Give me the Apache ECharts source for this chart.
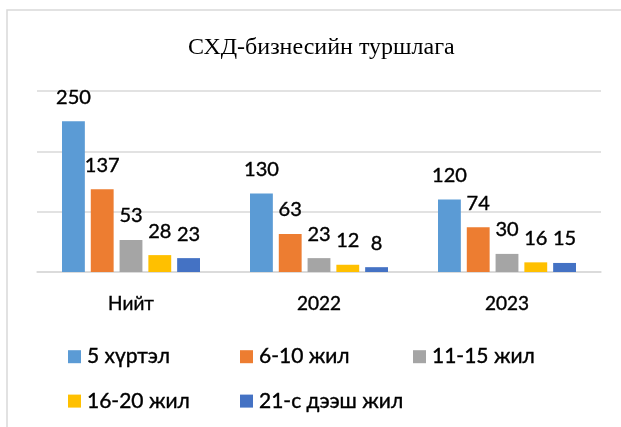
<!DOCTYPE html>
<html>
<head>
<meta charset="utf-8">
<script src="https://cdn.jsdelivr.net/npm/echarts@6/dist/echarts.min.js"></script>
<style>
  html, body { margin: 0; padding: 0; background: #fff; }
  #chart { width: 621px; height: 427px; }
</style>
</head>
<body>
<div id="chart"></div>
<script>
// Experience groups of SMEs, by period
const categories = ['Нийт', '2022', '2023'];
const seriesNames = ['5 хүртэл', '6-10 жил', '11-15 жил', '16-20 жил', '21-с дээш жил'];
const upTo5 = [250, 130, 120];
const y6to10 = [137, 63, 74];
const y11to15 = [53, 23, 30];
const y16to20 = [28, 12, 16];
const over21 = [23, 8, 15];
const colors = ['#5B9BD5', '#ED7D31', '#A5A5A5', '#FFC000', '#4472C4'];
const valueTicks = { min: 0, max: 300, interval: 100 };

const seriesData = [upTo5, y6to10, y11to15, y16to20, over21];
const sansFont = 'Lato, "Noto Sans", sans-serif';
// a hairline outline gives the sans text a slightly heavier stroke
const heavy = { textBorderColor: '#000', textBorderWidth: 0.4 };

const chart = echarts.init(document.getElementById('chart'), null, { renderer: 'canvas' });

// legend laid out as aligned columns
const legendBase = {
  orient: 'vertical',
  top: 346,
  padding: 0,
  itemWidth: 13,
  itemHeight: 13,
  itemGap: 23,
  icon: 'rect',
  selectedMode: false,
  textStyle: Object.assign({ fontFamily: sansFont, fontSize: 21, color: '#000', padding: [0, 0, 0, 1] }, heavy)
};

chart.setOption({
  animation: false,
  color: colors,
  title: {
    text: 'СХД-бизнесийн туршлага',
    left: 183,
    top: 31,
    textStyle: { fontFamily: '"Liberation Serif", "DejaVu Serif", serif', fontSize: 24, fontWeight: 'normal', color: '#000' }
  },
  graphic: [{
    type: 'rect',
    shape: { x: 7, y: 10, width: 700, height: 500 },
    style: { fill: 'none', stroke: '#d9d9d9', lineWidth: 1.5 },
    silent: true,
    z: -1
  }],
  legend: [
    Object.assign({}, legendBase, { left: 68, data: [seriesNames[0], seriesNames[3]] }),
    Object.assign({}, legendBase, { left: 240, data: [seriesNames[1], seriesNames[4]] }),
    Object.assign({}, legendBase, { left: 413, data: [seriesNames[2]] })
  ],
  grid: { left: 37, right: 20, top: 91, bottom: 155 },
  xAxis: {
    type: 'category',
    data: categories,
    axisLine: { lineStyle: { color: '#d9d9d9', width: 1.5 } },
    axisTick: { show: false },
    axisLabel: Object.assign({ fontFamily: sansFont, fontSize: 19, color: '#000', margin: 22 }, heavy)
  },
  yAxis: {
    type: 'value',
    min: valueTicks.min,
    max: valueTicks.max,
    interval: valueTicks.interval,
    axisLabel: { show: false },
    axisLine: { show: false },
    axisTick: { show: false },
    splitLine: { lineStyle: { color: '#d9d9d9', width: 1.5 } }
  },
  series: seriesNames.map((name, i) => ({
    name,
    type: 'bar',
    data: seriesData[i],
    barGap: '26%',
    barCategoryGap: '26.6%',
    itemStyle: { color: colors[i] },
    label: Object.assign({
      show: true,
      position: 'top',
      distance: 14,
      fontFamily: sansFont,
      fontSize: 20,
      color: '#000'
    }, heavy)
  }))
});
</script>
</body>
</html>
